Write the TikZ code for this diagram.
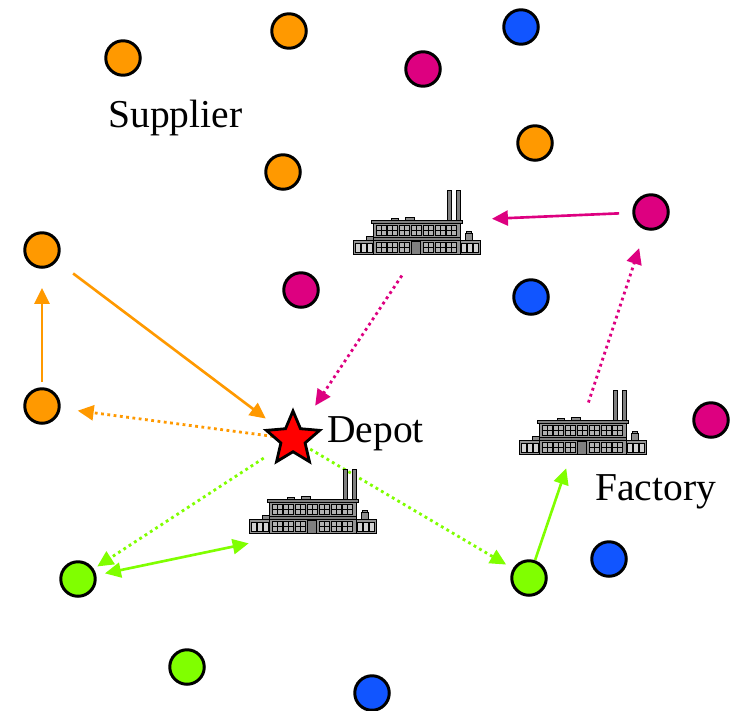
\documentclass[tikz,border=0pt]{standalone}
\usepackage{fontspec}
\setmainfont{Liberation Serif}
\usetikzlibrary{arrows.meta,shapes.geometric,backgrounds}
\definecolor{routeorange}{RGB}{255,153,0}
\definecolor{routemagenta}{RGB}{221,0,128}
\definecolor{siteblue}{RGB}{17,85,255}
\definecolor{routegreen}{RGB}{128,255,0}

\tikzset{
  >={Triangle[length=0.32cm,width=0.3cm]},
  site/.style={circle, draw=black, line width=1.7pt, minimum size=0.69cm, inner sep=0},
  route/.style={->, line width=1.5pt},
  dotroute/.style={route, line width=1.6pt, dash pattern=on 1.6pt off 2pt},
  tag/.style={font=\fontsize{22.5}{27}\selectfont, inner sep=0},
  factorybox/.style={minimum width=2.52cm, minimum height=1.28cm, inner sep=0},
  factory/.pic={
    \begin{scope}[draw=black, line width=0.5pt]
      % chimneys and roof boxes
      \filldraw[fill=gray] (31,-32) rectangle (35,-1);
      \filldraw[fill=gray] (40,-32) rectangle (44,-1);
      \filldraw[fill=gray!90] (-25,-4) rectangle (-18,-1);
      \filldraw[fill=gray!90] (-11,-5) rectangle (-2,-1);
      % side wings
      \filldraw[fill=gray!90] (-50,14) rectangle (-42,18);
      \filldraw[fill=gray!90] (50,9) rectangle (55,11);
      \filldraw[fill=gray!90] (49,11) rectangle (56,18);
      \filldraw[fill=gray!85] (-63,18) rectangle (-42,32);
      \filldraw[fill=gray!85] (43,18) rectangle (64,32);
      \foreach \w in {-61,-55,-49,45,51,57}
        \filldraw[fill=gray!35] (\w,21) rectangle ++(5,9);
      % main block
      \filldraw[fill=gray!85] (-43,-1) rectangle (44,32);
      \filldraw[fill=gray] (-45,-2) rectangle (46,1);
      \filldraw[fill=gray] (-43,15) rectangle (44,18);
      \foreach \k in {0,...,6} {
        \filldraw[fill=gray!60] (-40+\k*11.8,3) rectangle ++(10,10);
        \draw (-35+\k*11.8,3) -- ++(0,10) (-40+\k*11.8,8) -- ++(10,0);
      }
      \foreach \k in {0,1,2,4,5,6} {
        \filldraw[fill=gray!60] (-40+\k*11.8,20) rectangle ++(10,10);
        \draw (-35+\k*11.8,20) -- ++(0,10) (-40+\k*11.8,25) -- ++(10,0);
      }
      % door
      \filldraw[fill=gray] (-5,19) rectangle (4,32);
    \end{scope}
  }
}

\begin{document}
\begin{tikzpicture}[x=0.02cm, y=-0.02cm]
    \useasboundingbox (0,0) rectangle (732,710);

    % Suppliers
    \node[site, fill=routeorange] (o1) at (123,58) {};
    \node[site, fill=routeorange] (o2) at (289,31) {};
    \node[site, fill=routeorange] (o3) at (535,143) {};
    \node[site, fill=routeorange] (o4) at (283,172) {};
    \node[site, fill=routeorange] (o5) at (42,250) {};
    \node[site, fill=routeorange] (o6) at (42,406) {};

    \node[site, fill=routemagenta] (m1) at (423,69) {};
    \node[site, fill=routemagenta] (m2) at (301,290) {};
    \node[site, fill=routemagenta] (m3) at (651,212) {};
    \node[site, fill=routemagenta] (m4) at (711,420) {};

    \node[site, fill=siteblue] (b1) at (521,27) {};
    \node[site, fill=siteblue] (b2) at (531,297) {};
    \node[site, fill=siteblue] (b3) at (609,559) {};
    \node[site, fill=siteblue] (b4) at (372,693) {};

    \node[site, fill=routegreen] (g1) at (78,579) {};
    \node[site, fill=routegreen] (g2) at (187,667) {};
    \node[site, fill=routegreen] (g3) at (529,578) {};

    % Factories
    \node[factorybox] (f1) at (416,222) {};
    \node[factorybox] (f2) at (312,501) {};
    \node[factorybox] (f3) at (582,422) {};
    \pic at (f1) {factory};
    \pic at (f2) {factory};
    \pic at (f3) {factory};

    % Depot
    \node[star, star points=5, star point ratio=2.2, draw=black, fill=red,
          line width=1.6pt, minimum size=1.12cm, inner sep=0] (depot) at (293,439) {};

    % Labels
    \node[tag, anchor=base west] (tsupplier) at (108,127) {Supplier};
    \node[tag, anchor=base west] (tdepot) at (327,442) {Depot};
    \node[tag, anchor=base west] (tfactory) at (595,500) {Factory};

    % Routes
    \begin{scope}[on background layer]
        \draw[route, routeorange, shorten <=0.48cm, shorten >=0.76cm] (o6.center) -- (o5.center);
        \draw[route, routeorange, shorten <=0.78cm, shorten >=0.68cm] (o5.center) -- (depot.center);
        \draw[dotroute, routeorange, shorten <=0.4cm, shorten >=0.72cm] (depot.center) -- (o6.center);

        \draw[route, routemagenta, shorten <=0.64cm, shorten >=1.52cm] (m3.center) -- (f1.center);
        \draw[dotroute, routemagenta, shorten <=0.51cm, shorten >=0.8cm] (f1.south) -- (depot.center);
        \draw[dotroute, routemagenta, shorten <=0.41cm, shorten >=0.76cm] (f3.center) -- (m3.center);

        \draw[dotroute, routegreen, shorten <=0.7cm, shorten >=0.46cm] (depot.center) -- (g1.center);
        \draw[dotroute, routegreen, shorten <=0.4cm, shorten >=0.53cm] (depot.center) -- (g3.center);
        \draw[route, routegreen, <->, shorten <=0.55cm] (g1.center) -- ([yshift=-0.2cm]f2.south west);
        \draw[route, routegreen, shorten <=0.38cm, shorten >=0.98cm] (g3.center) -- (f3.center);
    \end{scope}
\end{tikzpicture}
\end{document}
